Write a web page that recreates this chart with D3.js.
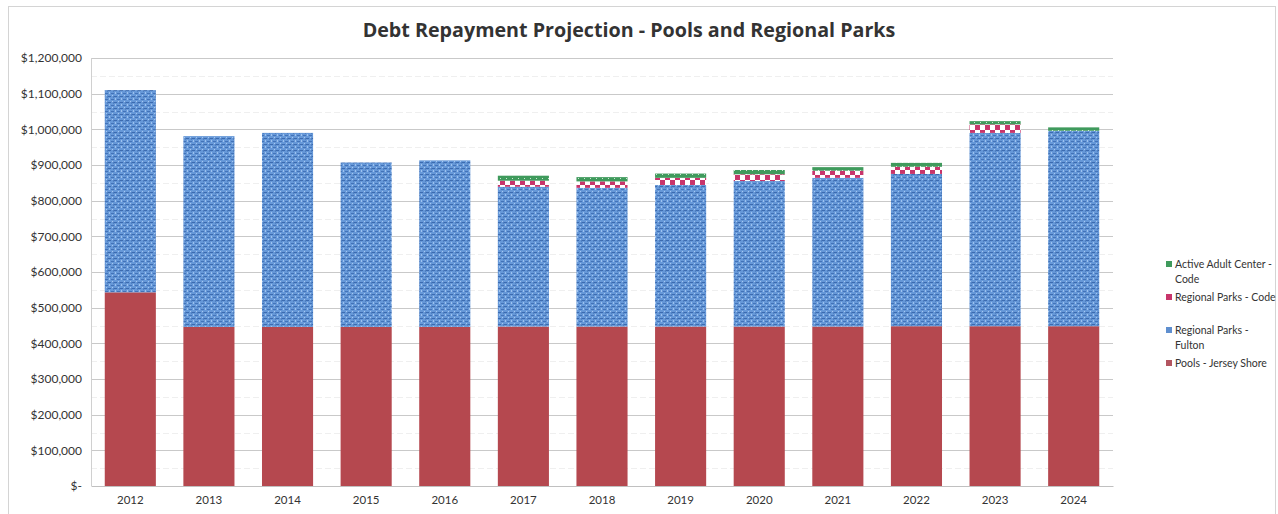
<!DOCTYPE html>
<html>
<head>
<meta charset="utf-8">
<script src="https://cdn.jsdelivr.net/npm/d3@7"></script>
<style>
  body { margin: 0; background: #fff; }
  svg text { font-family: Lato, "Open Sans", sans-serif; fill: #333; }
</style>
</head>
<body>
<div id="chart"></div>
<script>
// Chart values
const years = ["2012", "2013", "2014", "2015", "2016", "2017", "2018", "2019", "2020", "2021", "2022", "2023", "2024"];
const pools = [543000, 446000, 446000, 446000, 446000, 447000, 447000, 447000, 447000, 447000, 448000, 448000, 448000];
const fulton = [567000, 535000, 544000, 461000, 467000, 392000, 389000, 397000, 408000, 417000, 427000, 542000, 548000];
const parksCode = [0, 0, 0, 0, 0, 17000, 18000, 20000, 19000, 20000, 20000, 24000, 0];
const adultCenter = [0, 0, 0, 0, 0, 14000, 12000, 12000, 12000, 10000, 11000, 9000, 9500];
const yTicks = [0, 100000, 200000, 300000, 400000, 500000, 600000, 700000, 800000, 900000, 1000000, 1100000, 1200000];

const keys = ["pools", "fulton", "parksCode", "adultCenter"];

const W = 1278, H = 514;
const plot = { left: 91, right: 1113, top: 58, bottom: 486 };

const svg = d3.select("#chart").append("svg")
  .attr("width", W)
  .attr("height", H);

// Fill patterns
const defs = svg.append("defs");

// blue woven texture
const pBlue = defs.append("pattern")
  .attr("id", "pBlue").attr("patternUnits", "userSpaceOnUse")
  .attr("width", 6).attr("height", 6);
pBlue.append("rect").attr("width", 6).attr("height", 6).attr("fill", "#6698d8");
pBlue.append("rect").attr("x", 0).attr("y", 0).attr("width", 3).attr("height", 1).attr("fill", "#3c6bb0");
pBlue.append("rect").attr("x", 3).attr("y", 3).attr("width", 3).attr("height", 1).attr("fill", "#4373b8");
pBlue.append("rect").attr("x", 1).attr("y", 2).attr("width", 1).attr("height", 2).attr("fill", "#9ec2ee");
pBlue.append("rect").attr("x", 4).attr("y", 5).attr("width", 1).attr("height", 1).attr("fill", "#a8c8f0");
pBlue.append("rect").attr("x", 5).attr("y", 0).attr("width", 1).attr("height", 2).attr("fill", "#5181c2");

// red / white checkerboard
const pCheck = defs.append("pattern")
  .attr("id", "pCheck").attr("patternUnits", "userSpaceOnUse")
  .attr("width", 10).attr("height", 10);
pCheck.append("rect").attr("width", 10).attr("height", 10).attr("fill", "#ffffff");
pCheck.append("rect").attr("x", 0).attr("y", 0).attr("width", 5).attr("height", 5).attr("fill", "#c8356b");
pCheck.append("rect").attr("x", 5).attr("y", 5).attr("width", 5).attr("height", 5).attr("fill", "#c8356b");

// green dotted
const pGreen = defs.append("pattern")
  .attr("id", "pGreen").attr("patternUnits", "userSpaceOnUse")
  .attr("width", 6).attr("height", 4);
pGreen.append("rect").attr("width", 6).attr("height", 4).attr("fill", "#3f9a5c");
pGreen.append("rect").attr("x", 2).attr("y", 2).attr("width", 1).attr("height", 1).attr("fill", "#cfe8d4");

const fills = {
  pools: "#b5484f",
  fulton: "url(#pBlue)",
  parksCode: "url(#pCheck)",
  adultCenter: "url(#pGreen)"
};
const swatch = {
  pools: "#b35560",
  fulton: "#5f8fcf",
  parksCode: "#c8356b",
  adultCenter: "#3f9a5c"
};

// Outer chart frame
svg.append("rect")
  .attr("x", 8.5).attr("y", 6.5)
  .attr("width", 1267).attr("height", 520)
  .attr("fill", "none").attr("stroke", "#d4d4d4");

// Scales
const x = d3.scaleBand()
  .domain(years)
  .range([plot.left, plot.right])
  .paddingInner(0.35)
  .paddingOuter(0.175);

const y = d3.scaleLinear()
  .domain([0, 1200000])
  .range([plot.bottom, plot.top]);

// Minor gridlines
svg.append("g")
  .selectAll("line")
  .data(d3.range(50000, 1200000, 100000))
  .join("line")
  .attr("x1", plot.left).attr("x2", plot.right)
  .attr("y1", d => Math.round(y(d)) + 0.5).attr("y2", d => Math.round(y(d)) + 0.5)
  .attr("stroke", "#efefef").attr("stroke-dasharray", "6,3");

// Major gridlines
svg.append("g")
  .selectAll("line")
  .data(yTicks.slice(1))
  .join("line")
  .attr("x1", plot.left).attr("x2", plot.right)
  .attr("y1", d => Math.round(y(d)) + 0.5).attr("y2", d => Math.round(y(d)) + 0.5)
  .attr("stroke", "#c9c9c9");

// Left border of plot area
svg.append("line")
  .attr("x1", plot.left + 0.5).attr("x2", plot.left + 0.5)
  .attr("y1", plot.top).attr("y2", plot.bottom)
  .attr("stroke", "#d0d0d0");

// Stacked bars
const table = years.map((yr, i) => ({
  year: yr,
  pools: pools[i],
  fulton: fulton[i],
  parksCode: parksCode[i],
  adultCenter: adultCenter[i]
}));
const stacked = d3.stack().keys(keys)(table);

svg.append("g")
  .selectAll("g")
  .data(stacked)
  .join("g")
  .attr("fill", d => fills[d.key])
  .selectAll("rect")
  .data(d => d)
  .join("rect")
  .attr("x", d => x(d.data.year))
  .attr("y", d => y(d[1]))
  .attr("width", x.bandwidth())
  .attr("height", d => y(d[0]) - y(d[1]));

// X axis
const xAxis = svg.append("g")
  .attr("transform", `translate(0,${plot.bottom})`)
  .call(d3.axisBottom(x).tickSize(0).tickPadding(10));
xAxis.select(".domain").attr("stroke", "#c0c0c0");
xAxis.selectAll("text").style("font-size", "11.5px").attr("fill", "#333");

// Y axis
const fmt = d3.format(",");
const yAxis = svg.append("g")
  .attr("transform", `translate(${plot.left},0)`)
  .call(d3.axisLeft(y).tickValues(yTicks).tickSize(0).tickPadding(9)
    .tickFormat(d => d === 0 ? "$-" : "$" + fmt(d)));
yAxis.select(".domain").remove();
yAxis.selectAll("text").style("font-size", "12px").attr("fill", "#333");

// Title
svg.append("text")
  .attr("x", 629).attr("y", 37)
  .attr("text-anchor", "middle")
  .style("font-family", "'Open Sans', sans-serif")
  .style("font-size", "19.7px")
  .style("font-weight", "bold")
  .attr("fill", "#262626")
  .text("Debt Repayment Projection - Pools and Regional Parks");

// Legend
const legendItems = [
  { key: "adultCenter", lines: ["Active Adult Center -", "Code"], y: 264 },
  { key: "parksCode", lines: ["Regional Parks - Code"], y: 297 },
  { key: "fulton", lines: ["Regional Parks -", "Fulton"], y: 330 },
  { key: "pools", lines: ["Pools - Jersey Shore"], y: 363 }
];
const legend = svg.append("g");
legendItems.forEach(item => {
  legend.append("rect")
    .attr("x", 1166).attr("y", item.y - 3)
    .attr("width", 6).attr("height", 6)
    .attr("fill", swatch[item.key]);
  item.lines.forEach((ln, j) => {
    legend.append("text")
      .attr("x", 1175).attr("y", item.y + j * 15)
      .attr("dy", "0.35em")
      .style("font-size", "10.5px")
      .text(ln);
  });
});
</script>
</body>
</html>
